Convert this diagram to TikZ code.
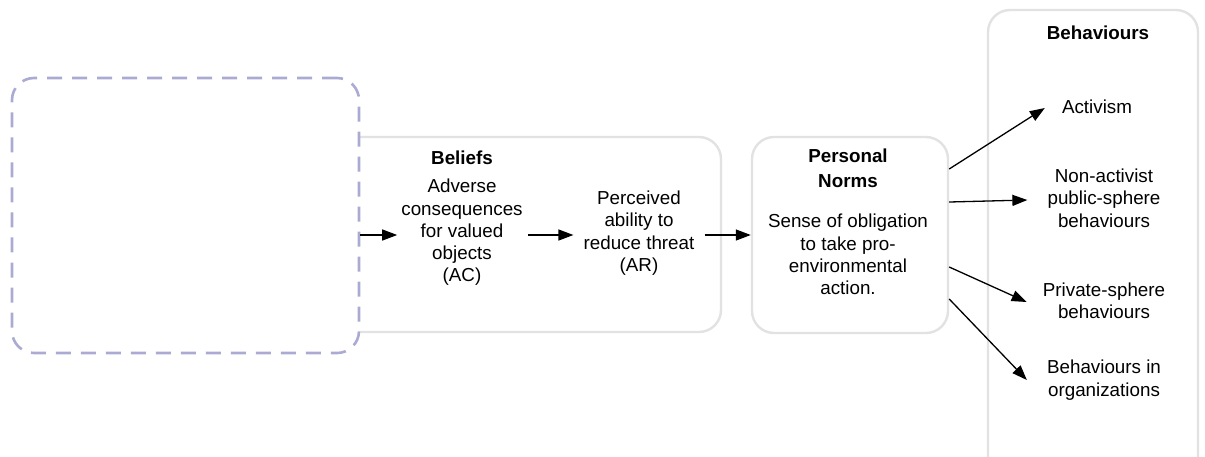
\documentclass[tikz,border=0pt]{standalone}
\usepackage{fontspec}
\setmainfont{Liberation Sans}
\usetikzlibrary{arrows.meta}
\definecolor{dashcol}{HTML}{AAAAD2}
\definecolor{boxcol}{HTML}{E2E2E2}
\tikzset{
  x=1pt, y=-1pt,
  greybox/.style={draw=boxcol, line width=2.4pt, rounded corners=22pt, fill=white},
  txt/.style={align=center, inner sep=4pt, font=\fontsize{18.8}{22.3}\selectfont},
  ttl/.style={align=center, inner sep=2pt, font=\fontsize{18.8}{25}\selectfont\bfseries},
  arr/.style={-{Triangle[length=15pt,width=11pt]}, line width=1.3pt, black},
}
\begin{document}
\begin{tikzpicture}
\useasboundingbox (0,0) rectangle (1205,456);
% Behaviours box
\begin{scope}
\clip (0,0) rectangle (1205,456);
\draw[greybox] (988,10) rectangle (1198,490);
\end{scope}
% Beliefs box
\draw[greybox] (330,137) rectangle (721,332);
% Personal norms box
\node[greybox, minimum width=196pt, minimum height=196pt, inner sep=0pt] (pnbox) at (850,235) {};
% Dashed box
\node[draw=dashcol, line width=2.6pt, dash pattern=on 15pt off 10pt, rounded corners=22pt, fill=white,
      minimum width=347pt, minimum height=275pt, inner sep=0pt] (dash) at (185.5,215.5) {};
% Texts
\node[ttl] (bel) at (462,158) {Beliefs};
\node[txt] (ac) at (462,232.5) {Adverse\\consequences\\for valued\\objects\\(AC)};
\node[txt] (ar) at (639,233) {Perceived\\ability to\\reduce threat\\(AR)};
\node[ttl] (pnt) at (848,168.5) {Personal\\Norms};
\node[txt] (pn) at (848,254.5) {Sense of obligation\\to take pro-\\environmental\\action.};
\node[ttl] (beh) at (1098,33) {Behaviours};
\node[txt] (act) at (1097,107) {Activism};
\node[txt] (pub) at (1104,198) {Non-activist\\public-sphere\\behaviours};
\node[txt] (priv) at (1104,301) {Private-sphere\\behaviours};
\node[txt] (org) at (1104,380) {Behaviours in\\organizations};
% Arrows
\draw[arr] ([yshift=-2.5]dash.east |- ac.west) -- ([yshift=-2.5]ac.west);
\draw[arr] ([xshift=1,yshift=-2.5]ac.east) -- ([xshift=-6,yshift=-2]ar.west);
\draw[arr] ([xshift=6,yshift=-2]ar.east) -- (pnbox.west);
\draw[arr] ([yshift=66]pnbox.east) -- ([xshift=-13,yshift=-1]act.west);
\draw[arr] ([yshift=33]pnbox.east) -- ([xshift=-16,yshift=-2]pub.west);
\draw[arr] ([yshift=-32]pnbox.east) -- ([xshift=-12,yshift=-1]priv.west);
\draw[arr] ([yshift=-64]pnbox.east) -- ([xshift=-16]org.west);
\end{tikzpicture}
\end{document}
